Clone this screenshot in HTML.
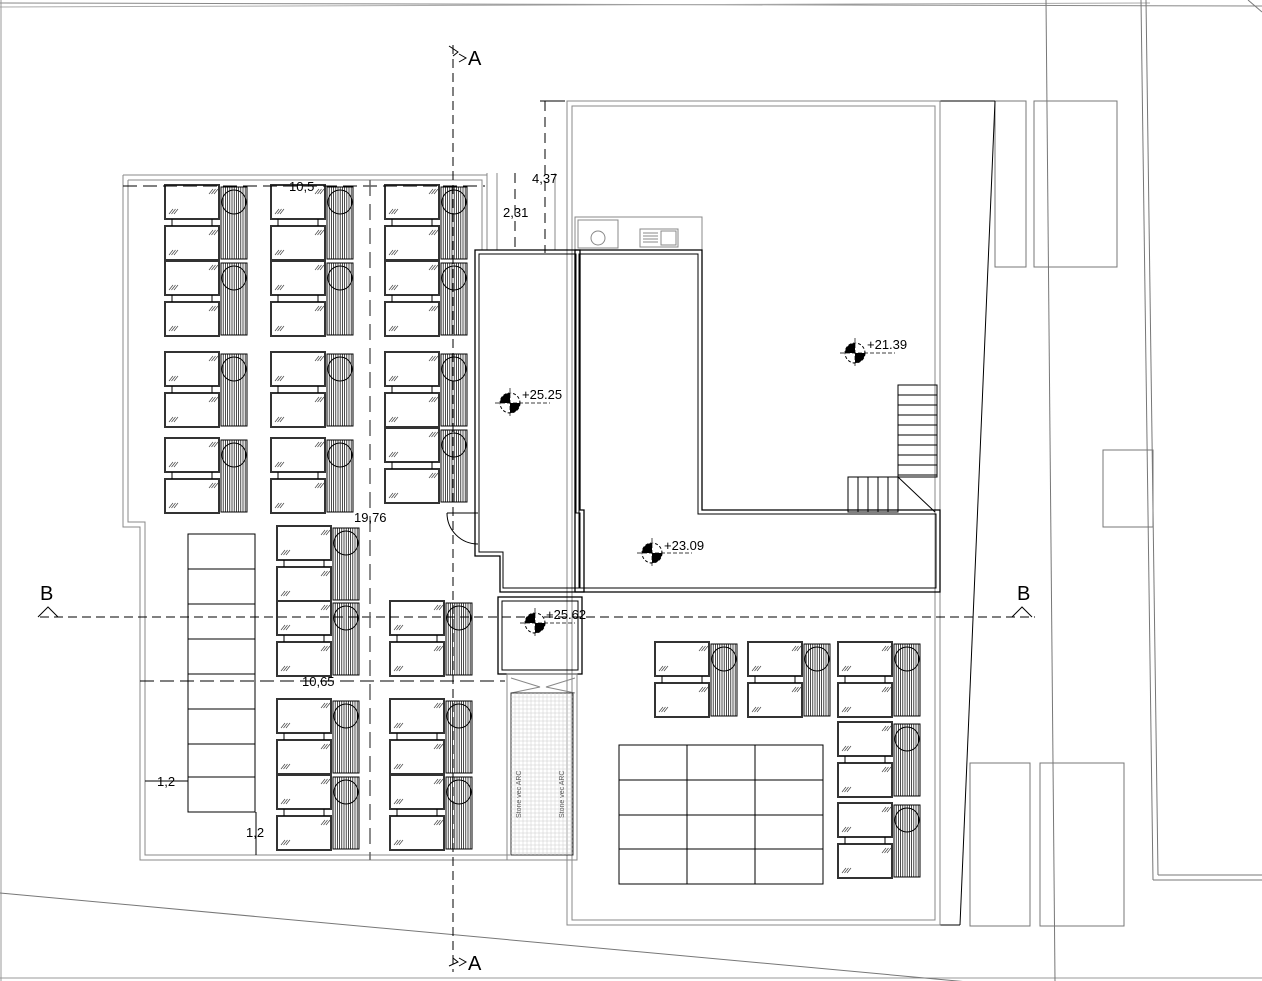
<!DOCTYPE html>
<html><head><meta charset="utf-8"><style>
html,body{margin:0;padding:0;background:#fff;}
svg{display:block;font-family:"Liberation Sans",sans-serif;}
</style></head><body>
<svg id="s" width="1262" height="981" viewBox="0 0 1262 981" xmlns="http://www.w3.org/2000/svg">
<g fill="none" stroke="#000" stroke-width="1">
<line x1="0" y1="3" x2="1262" y2="6" stroke="#888"/>
<line x1="0" y1="7" x2="1150" y2="3" stroke="#aaa"/>
<line x1="1" y1="0" x2="1" y2="981" stroke="#999"/>
<line x1="0" y1="978" x2="1262" y2="978" stroke="#999"/>
<line x1="0" y1="893" x2="1262" y2="1009" stroke="#777"/>
<line x1="1248" y1="0" x2="1262" y2="12" stroke="#777"/>
<line x1="1046" y1="0" x2="1055" y2="981" stroke="#777"/>
<line x1="1141" y1="0" x2="1153" y2="880" stroke="#777"/>
<line x1="1146" y1="0" x2="1158" y2="875" stroke="#777"/>
<line x1="1153" y1="880" x2="1262" y2="880" stroke="#777"/>
<line x1="1158" y1="875" x2="1262" y2="875" stroke="#777"/>
<rect x="1103" y="450" width="50" height="77" stroke="#777"/>
<rect x="995" y="101" width="31" height="166" stroke="#777"/>
<rect x="1034" y="101" width="83" height="166" stroke="#777"/>
<rect x="970" y="763" width="60" height="163" stroke="#777"/>
<rect x="1040" y="763" width="84" height="163" stroke="#777"/>
<line x1="940" y1="101" x2="995" y2="101"/>
<line x1="995" y1="101" x2="960" y2="925"/>
<line x1="940" y1="925" x2="960" y2="925"/>
<rect x="567" y="101" width="373" height="824" stroke="#888"/>
<rect x="572" y="106" width="363" height="814" stroke="#888"/>
<path d="M123 175 H487 V250 M123 175 V527 H140 V860 H510" stroke="#888"/>
<path d="M128 180 H482 V250 M128 180 V522 H145 V855 H510" stroke="#888"/>
<rect x="575" y="217" width="127" height="33" stroke="#888"/>
<rect x="578" y="220" width="40" height="28" stroke="#888"/>
<circle cx="598" cy="238" r="7" stroke="#888"/>
<rect x="640" y="229" width="38" height="18" stroke="#888"/>
<rect x="661" y="231" width="15" height="14" stroke="#888"/>
<g stroke="#888"><line x1="643" y1="233" x2="658" y2="233"/><line x1="643" y1="236" x2="658" y2="236"/><line x1="643" y1="239" x2="658" y2="239"/><line x1="643" y1="242" x2="658" y2="242"/></g>
<line x1="487" y1="173" x2="487" y2="250" stroke="#888"/><line x1="497" y1="173" x2="497" y2="250" stroke="#888"/>
<line x1="555" y1="173" x2="555" y2="250" stroke="#888"/>
<path d="M475 250 H580 V510 H584 V592 H500 V556 H475 Z" stroke-width="1.3"/>
<path d="M479 254 H576 V513 H580 V588 H503 V552 H479 Z"/>
<path d="M575 250 H702 V510 H940 V592 H575 Z" stroke-width="1.3"/>
<path d="M579 254 H698 V514 H936 V588 H579 Z"/>
<rect x="498" y="597" width="84" height="77" stroke-width="1.3"/>
<rect x="502" y="601" width="76" height="69"/>
<rect x="507" y="674" width="70" height="186" stroke="#888"/>
<path d="M511 678 L540 687 L511 693 M575 678 L546 687 L575 693" stroke="#888"/>
<rect x="511" y="693" width="62" height="162" stroke="#333"/>
<g id="grid" stroke="#ccc" stroke-width="0.5"></g>
<path d="M447 513 H478 M447 513 A31 31 0 0 0 478 544"/>
<rect x="898" y="385" width="39" height="92"/>
<g id="st"></g>
<rect x="848" y="477" width="50" height="35"/>
<line x1="898" y1="477" x2="935" y2="512"/>
<rect x="188" y="534" width="67" height="278"/>
<g id="pk"></g>
<rect x="619" y="745" width="204" height="139"/>
<line x1="687" y1="745" x2="687" y2="884"/><line x1="755" y1="745" x2="755" y2="884"/>
<line x1="619" y1="780" x2="823" y2="780"/><line x1="619" y1="815" x2="823" y2="815"/><line x1="619" y1="849" x2="823" y2="849"/>
<g id="mods"></g>
<line x1="453" y1="45" x2="453" y2="972" stroke-dasharray="9,5"/>
<line x1="40" y1="617" x2="1035" y2="617" stroke-dasharray="9,5"/>
<line x1="123" y1="186" x2="485" y2="186" stroke-dasharray="14,6"/>
<line x1="370" y1="180" x2="370" y2="860" stroke="#666" stroke-width="1.5" stroke-dasharray="16,8"/>
<line x1="140" y1="681" x2="505" y2="681" stroke-dasharray="14,6"/>
<line x1="545" y1="101" x2="545" y2="253" stroke-dasharray="10,6"/>
<line x1="540" y1="101" x2="565" y2="101"/>
<line x1="515" y1="173" x2="515" y2="253" stroke-dasharray="10,6"/>
<line x1="145" y1="781" x2="188" y2="781"/>
<line x1="256" y1="812" x2="256" y2="855"/>
<path d="M449 46 L458 52 L453 56 M449 966 L458 962 L453 958"/>
<path d="M459 54 L466 58 L459 62 M459 958 L466 962 L459 966"/>
<path d="M38 617 L48 607 L58 617 M1012 617 L1022 607 L1032 617"/>
</g>
<g font-size="13" fill="#000">
<text x="289" y="191">10,5</text>
<text x="354" y="522">19,76</text>
<text x="302" y="686">10,65</text>
<text x="532" y="183">4,37</text>
<text x="503" y="217">2,31</text>
<text x="157" y="786">1,2</text>
<text x="246" y="837">1,2</text>
<text x="867" y="349">+21.39</text>
<text x="522" y="399">+25.25</text>
<text x="664" y="550">+23.09</text>
<text x="546" y="619">+25.62</text>
</g>
<g font-size="20" fill="#000">
<text x="468" y="65">A</text><text x="468" y="970">A</text>
<text x="40" y="600">B</text><text x="1017" y="600">B</text>
</g>
<g font-size="7" fill="#555">
<text transform="translate(521,818) rotate(-90)">Stone vec ARC</text>
<text transform="translate(564,818) rotate(-90)">Stone vec ARC</text>
</g>
<g id="elev"></g>
</svg>
<script>
var NS="http://www.w3.org/2000/svg";
function el(p,t,a){var e=document.createElementNS(NS,t);for(var k in a)e.setAttribute(k,a[k]);document.getElementById(p).appendChild(e);return e;}
for(var x=515;x<573;x+=4)el("grid","line",{x1:x,y1:693,x2:x,y2:855});
for(var y=697;y<855;y+=4)el("grid","line",{x1:511,y1:y,x2:573,y2:y});
for(var y=395;y<477;y+=10)el("st","line",{x1:898,y1:y,x2:937,y2:y});
for(var x=858;x<898;x+=10)el("st","line",{x1:x,y1:477,x2:x,y2:512});
[569,604,639,674,709,744,777].forEach(function(y){el("pk","line",{x1:188,y1:y,x2:255,y2:y});});
function glass(x,y){var g="";[[x+44,y+4],[x+4,y+24]].forEach(function(p){for(var i=0;i<3;i++){var a=p[0]+i*2.5;g+="M"+a+" "+(p[1]+5)+"L"+(a+4)+" "+p[1];}});return g;}
function mod(x,y){
 el("mods","rect",{x:x,y:y,width:54,height:34,stroke:"#333","stroke-width":2});
 el("mods","rect",{x:x,y:y+41,width:54,height:34,stroke:"#333","stroke-width":2});
 el("mods","path",{d:glass(x,y)+glass(x,y+41),stroke:"#444","stroke-width":0.7});
 el("mods","path",{d:"M"+(x+7)+" "+(y+34)+"V"+(y+41)+"M"+(x+47)+" "+(y+34)+"V"+(y+41)});
 var d="";for(var i=0;i<=26;i+=2.2)d+="M"+(x+56+i)+" "+(y+2)+"V"+(y+74);
 el("mods","path",{d:d,"stroke-width":0.7});
 el("mods","rect",{x:x+56,y:y+2,width:26,height:72});
 el("mods","circle",{cx:x+69,cy:y+17,r:12,fill:"none"});
}
[[165,185],[165,261],[165,352],[165,438],[271,185],[271,261],[271,352],[271,438],
[385,185],[385,261],[385,352],[385,428],[277,526],[277,601],[277,699],[277,775],
[390,601],[390,699],[390,775],[655,642],[748,642],[838,642],[838,722],[838,803]].forEach(function(m){mod(m[0],m[1]);});
function ev(cx,cy){
 el("elev","circle",{cx:cx,cy:cy,r:10,fill:"#fff",stroke:"#000","stroke-dasharray":"3,2"});
 el("elev","path",{d:"M"+cx+" "+cy+"L"+(cx-10)+" "+cy+"A10 10 0 0 1 "+cx+" "+(cy-10)+"Z",fill:"#000"});
 el("elev","path",{d:"M"+cx+" "+cy+"L"+(cx+10)+" "+cy+"A10 10 0 0 1 "+cx+" "+(cy+10)+"Z",fill:"#000"});
 el("elev","path",{d:"M"+(cx-15)+" "+cy+"H"+(cx+40)+"M"+cx+" "+(cy-15)+"V"+(cy+15),stroke:"#000","stroke-width":0.7,"stroke-dasharray":"4,2"});
}
ev(510,403);ev(855,353);ev(652,553);ev(535,623);
</script>
</body></html>
